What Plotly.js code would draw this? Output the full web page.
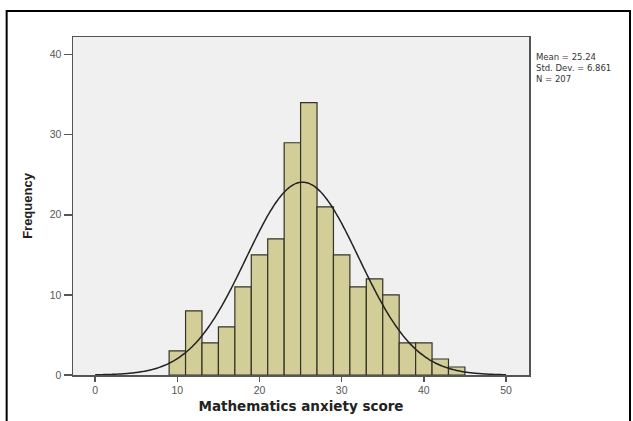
<!DOCTYPE html>
<html>
<head>
<meta charset="utf-8">
<script src="https://cdn.plot.ly/plotly-3.0.1.min.js"></script>
<style>html,body{margin:0;padding:0;background:#fff;}#chart{width:633px;height:421px;}</style>
</head>
<body>
<div id="chart"></div>
<script>
// Histogram bins (centres, width 2) and frequencies
const binCenters = [10, 12, 14, 16, 18, 20, 22, 24, 26, 28, 30, 32, 34, 36, 38, 40, 42, 44];
const frequencies = [3, 8, 4, 6, 11, 15, 17, 29, 34, 21, 15, 11, 12, 10, 4, 4, 2, 1];
const binWidth = 2;
// Summary statistics shown on the chart
const statMean = 25.24;
const statSD = 6.861;
const statN = 207;
const statLines = ['Mean = 25.24', 'Std. Dev. = 6.861', 'N = 207'];
const xTicks = [0, 10, 20, 30, 40, 50];
const yTicks = [0, 10, 20, 30, 40];

// Fitted normal curve defined by the displayed statistics
const curveX = [];
const curveY = [];
for (let i = 0; i <= 250; i++) {
  const x = i * 0.2;
  curveX.push(x);
  curveY.push(statN * binWidth / (statSD * Math.sqrt(2 * Math.PI)) *
    Math.exp(-0.5 * Math.pow((x - statMean) / statSD, 2)));
}

const traces = [
  {
    type: 'bar', x: binCenters, y: frequencies, width: binWidth,
    marker: {color: '#d3ce97', line: {color: '#333326', width: 1.2}},
    hoverinfo: 'x+y', showlegend: false
  },
  {
    type: 'scatter', mode: 'lines', x: curveX, y: curveY,
    line: {color: '#222', width: 1.5, shape: 'spline'},
    showlegend: false, hoverinfo: 'skip'
  }
];

const layout = {
  width: 633, height: 421,
  margin: {l: 73, r: 104, t: 37, b: 46},
  paper_bgcolor: '#ffffff',
  plot_bgcolor: '#f0f0f0',
  bargap: 0,
  font: {family: 'Liberation Sans, Arial, sans-serif', color: '#444'},
  xaxis: {
    range: [-2.7, 52.8], tickvals: xTicks, ticks: 'outside', ticklen: 5,
    tickcolor: '#555', tickwidth: 1.5, showgrid: false, zeroline: false,
    showline: true, mirror: true, linecolor: '#555', linewidth: 1.5,
    tickfont: {size: 10.5, color: '#555'},
    title: {text: '<b>Mathematics anxiety score</b>', font: {family: 'DejaVu Sans, sans-serif', size: 13.5, color: '#222'}, standoff: 6}
  },
  yaxis: {
    range: [0, 42.2], tickvals: yTicks, ticks: 'outside', ticklen: 8,
    tickcolor: '#555', tickwidth: 1.5, showgrid: false, zeroline: false,
    showline: true, mirror: true, linecolor: '#555', linewidth: 1.5,
    tickfont: {size: 10.5, color: '#555'},
    title: {text: '<b>Frequency</b>', font: {size: 13, color: '#222'}, standoff: 14}
  },
  annotations: [{
    xref: 'paper', yref: 'paper', x: 1.012, y: 0.962, xanchor: 'left', yanchor: 'top',
    align: 'left', showarrow: false,
    text: statLines.join('<br>'),
    font: {family: 'DejaVu Sans, sans-serif', size: 8.5, color: '#333'}
  }],
  shapes: [{
    type: 'rect', xref: 'paper', yref: 'paper',
    x0: -0.1455, x1: 1.2215, y0: -0.16, y1: 1.077,
    line: {color: '#000', width: 2}, layer: 'above'
  }]
};

Plotly.newPlot('chart', traces, layout, {staticPlot: true, displayModeBar: false});
</script>
</body>
</html>
